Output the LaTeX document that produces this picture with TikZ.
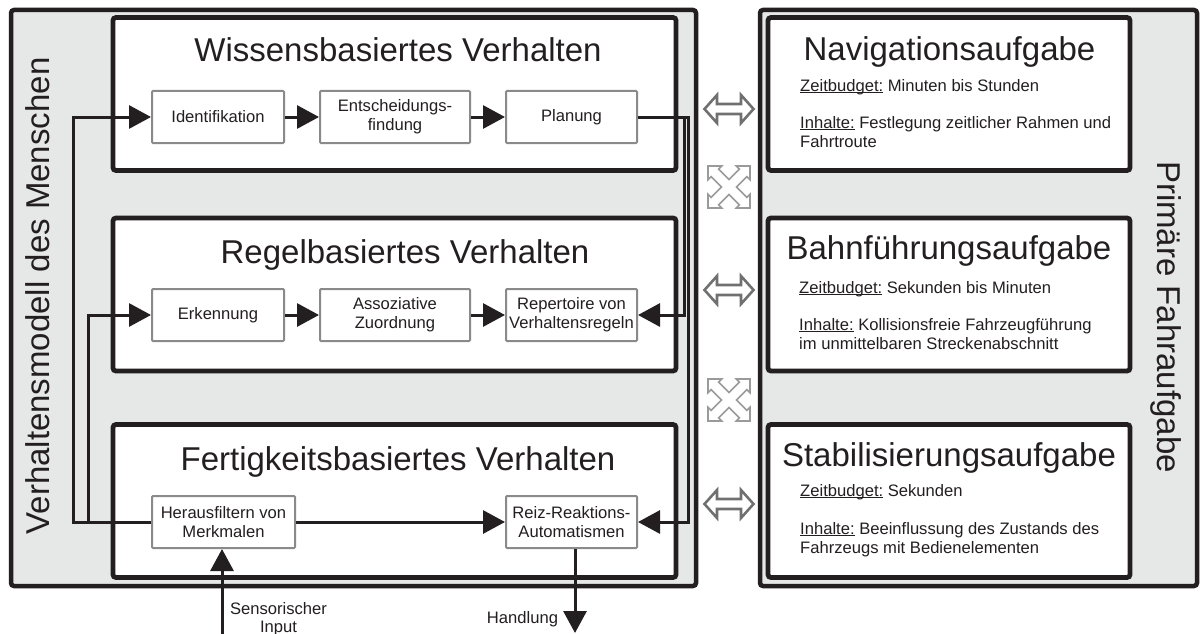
\documentclass[tikz,border=0pt]{standalone}
\usepackage{fontspec}
\setmainfont{Liberation Sans}
\usetikzlibrary{arrows.meta}
\definecolor{ink}{HTML}{231F20}
\definecolor{panel}{HTML}{E6E7E7}
\definecolor{boxgray}{HTML}{8A8A8A}
\definecolor{arrgray}{HTML}{707070}
\definecolor{icongray}{HTML}{9A9A9A}
\newcommand\ulin[1]{\setbox0\hbox{#1}\rlap{\rule[-2pt]{\wd0}{0.9pt}}\box0\relax}
\begin{document}
\begin{tikzpicture}[x=1pt,y=-1pt,
  every node/.style={text=ink},
  panelbox/.style={draw=ink, fill=panel, line width=4.5pt, rounded corners=3pt, inner sep=0pt},
  levelbox/.style={draw=ink, fill=white, line width=4.8pt, rounded corners=3pt, inner sep=0pt, minimum height=153pt},
  stepbox/.style={draw=boxgray, fill=white, line width=2pt, rounded corners=1pt, minimum height=52pt, inner sep=0pt, align=center, font=\fontsize{16.6}{19}\selectfont},
  title/.style={font=\fontsize{33}{38}\selectfont, anchor=base, inner sep=0pt},
  sidetitle/.style={font=\fontsize{33}{38}\selectfont, inner sep=0pt},
  body/.style={font=\fontsize{16.6}{19}\selectfont, anchor=north west, inner sep=0pt, align=left},
  lbl/.style={font=\fontsize{16.6}{18}\selectfont, inner sep=0pt, align=center},
  conn/.style={draw=ink, line width=3pt},
  arr/.style={conn, -{Triangle[length=22pt,width=23pt]}},
  dblarrow/.pic={\draw[draw=arrgray, fill=white, line width=2.6pt, line join=miter]
     (-24.5,0) -- (-12,-14) -- (-12,-5) -- (12,-5) -- (12,-14) -- (24.5,0) -- (12,14) -- (12,5) -- (-12,5) -- (-12,14) -- cycle;},
  crossicon/.pic={\draw[draw=icongray, fill=white, line width=1.6pt, line join=miter, scale=21]
     (-1,1) -- (-0.35,1) -- (-0.498,0.852) -- (0,0.354) -- (0.498,0.852) -- (0.35,1) -- (1,1) -- (1,0.35) -- (0.852,0.498) -- (0.354,0) -- (0.852,-0.498) -- (1,-0.35) -- (1,-1) -- (0.35,-1) -- (0.498,-0.852) -- (0,-0.354) -- (-0.498,-0.852) -- (-0.35,-1) -- (-1,-1) -- (-1,-0.35) -- (-0.852,-0.498) -- (-0.354,0) -- (-0.852,0.498) -- (-1,0.35) -- cycle;}
]
\useasboundingbox (0,0) rectangle (1200,634);
\fill[white] (0,0) rectangle (1200,634);

% panels
\node[panelbox, minimum width=685pt, minimum height=576pt] (human) at (353.5,298) {};
\node[panelbox, minimum width=437pt, minimum height=576pt] (task) at (978.5,298) {};

% level boxes (left)
\node[levelbox, minimum width=563pt] (wis) at (394.5,94) {};
\node[levelbox, minimum width=563pt] (reg) at (394.5,294.5) {};
\node[levelbox, minimum width=563pt] (fer) at (394.5,501) {};
% task boxes (right)
\node[levelbox, minimum width=362pt] (nav) at (949,94) {};
\node[levelbox, minimum width=362pt] (bahn) at (949,294.5) {};
\node[levelbox, minimum width=362pt] (stab) at (949,501) {};

% titles
\node[title] (twis) at (398,62) {Wissensbasiertes Verhalten};
\node[title] (treg) at (405,263) {Regelbasiertes Verhalten};
\node[title] (tfer) at (398,470) {Fertigkeitsbasiertes Verhalten};
\node[title] (tnav) at (949.5,60) {Navigationsaufgabe};
\node[title] (tbahn) at (949,259) {Bahnführungsaufgabe};
\node[title] (tstab) at (949,466) {Stabilisierungsaufgabe};

\node[sidetitle, rotate=90] (tleft) at (38,296) {Verhaltensmodell des Menschen};
\node[sidetitle, rotate=-90] (tright) at (1166,317) {Primäre Fahraufgabe};

% step boxes
\node[stepbox, minimum width=132pt] (ident) at (218,117) {Identifikation};
\node[stepbox, minimum width=150pt] (ent) at (395,117) {Entscheidungs-\\findung};
\node[stepbox, minimum width=131pt] (plan) at (571.5,117) {Planung};
\node[stepbox, minimum width=132pt] (erk) at (218,315) {Erkennung};
\node[stepbox, minimum width=150pt] (asso) at (395,315) {Assoziative\\Zuordnung};
\node[stepbox, minimum width=131pt] (rep) at (571.5,315) {Repertoire von\\Verhaltensregeln};
\node[stepbox, minimum width=143pt] (heraus) at (223.5,522) {Herausfiltern von\\Merkmalen};
\node[stepbox, minimum width=131pt] (reiz) at (571.5,522) {Reiz-Reaktions-\\Automatismen};

% task texts
\node[body] (navz) at (800,79) {\ulin{Zeitbudget:} Minuten bis Stunden};
\node[body] (navi) at (800,116) {\ulin{Inhalte:} Festlegung zeitlicher Rahmen und\\Fahrtroute};
\node[body] (bahnz) at (799,281) {\ulin{Zeitbudget:} Sekunden bis Minuten};
\node[body] (bahni) at (799,318) {\ulin{Inhalte:} Kollisionsfreie Fahrzeugführung\\im unmittelbaren Streckenabschnitt};
\node[body] (stabz) at (800,484) {\ulin{Zeitbudget:} Sekunden};
\node[body] (stabi) at (800,522) {\ulin{Inhalte:} Beeinflussung des Zustands des\\Fahrzeugs mit Bedienelementen};

% bus coordinates
\coordinate (busA) at (73,0);
\coordinate (busB) at (88,0);
\coordinate (busC) at (684,0);
\coordinate (busD) at (688.5,0);
\coordinate (sin) at (222,634);
\coordinate (hout) at (575,633);

% connectors
\draw[arr] (heraus.west) -- (heraus.west -| busA) -- (ident.west -| busA) -- (ident.west);
\draw[arr] (heraus.west) -- (heraus.west -| busB) -- (erk.west -| busB) -- (erk.west);
\draw[arr] (ident) -- (ent);
\draw[arr] (ent) -- (plan);
\draw[arr] (erk) -- (asso);
\draw[arr] (asso) -- (rep);
\draw[arr] (heraus) -- (reiz);
\draw[arr] (plan.east) -- (plan.east -| busC) -- (rep.east -| busC) -- (rep.east);
\draw[arr] (plan.east) -- (plan.east -| busD) -- (reiz.east -| busD) -- (reiz.east);
\draw[arr] (sin) -- (sin |- heraus.south);
\draw[arr] (hout |- reiz.south) -- (hout);

\node[lbl] (sens) at (278.5,619) {Sensorischer\\Input};
\node[lbl] (hand) at (522.5,619.5) {Handlung};

% link icons
\pic at (729,109) {dblarrow};
\pic at (729,290) {dblarrow};
\pic at (729,504) {dblarrow};
\pic at (729,187) {crossicon};
\pic at (729,400) {crossicon};
\end{tikzpicture}
\end{document}
